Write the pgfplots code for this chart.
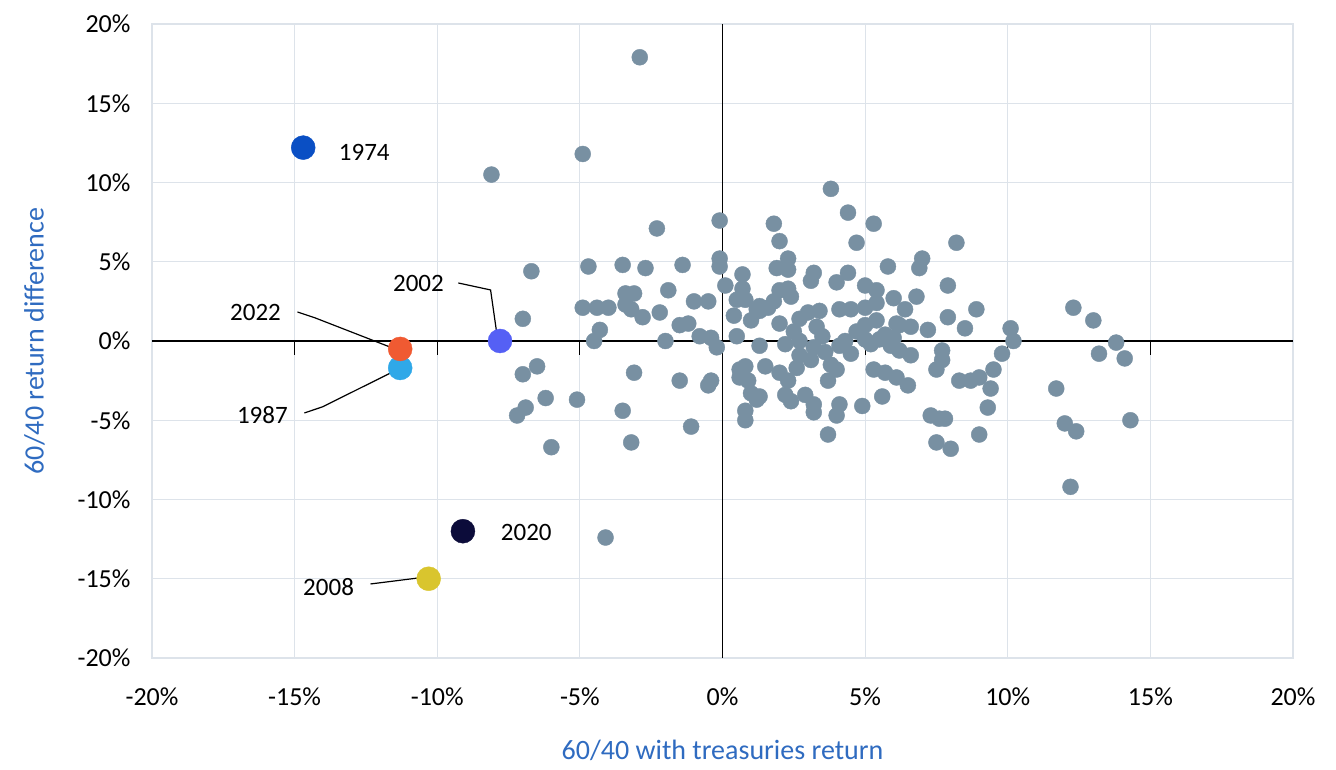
\documentclass[border=0pt]{standalone}
\usepackage{pgfplots}
\pgfplotsset{compat=1.18}
\usepackage{fontspec}
\setmainfont{Carlito}
\definecolor{dotg}{HTML}{7890A2}
\definecolor{lblue}{HTML}{2F6BC0}
\definecolor{gridc}{HTML}{DDE3EA}
\definecolor{c74}{RGB}{10,79,196}
\definecolor{c02}{RGB}{85,96,245}
\definecolor{c87}{RGB}{47,168,232}
\definecolor{c22}{RGB}{240,90,50}
\definecolor{c20}{RGB}{12,12,58}
\definecolor{c08}{RGB}{217,197,46}
\begin{document}
\begin{tikzpicture}[x=1pt,y=1pt]
\useasboundingbox (-152,-112) rectangle (1184,658);
\begin{axis}[at={(0,0)},anchor=south west,scale only axis,width=1141pt,height=634pt,
 xmin=-20,xmax=20,ymin=-20,ymax=20,xtick={-20,-15,...,20},ytick={-20,-15,...,20},
 xticklabel={\pgfmathprintnumber{\tick}\%},yticklabel={\pgfmathprintnumber{\tick}\%},
 /pgf/number format/assume math mode=true,
 ticklabel style={font=\fontsize{26}{30}\selectfont,text=black},
 xticklabel style={yshift=-26pt},yticklabel style={xshift=-18pt},
 grid=major,grid style={gridc,line width=1.2pt},axis line style={gridc,line width=1.2pt},
 major tick length=0pt,
 xlabel={60/40 with treasuries return},ylabel={60/40 return difference},
 label style={font=\fontsize{28}{32}\selectfont,text=lblue},
 xlabel style={yshift=-28pt},ylabel style={yshift=26pt},
 clip=false]
\draw[black,line width=1.2pt] (axis cs:-20,0)--(axis cs:20,0);
\draw[black,line width=1.2pt] (axis cs:0,-20)--(axis cs:0,20);
\draw[black,line width=1.2pt] (axis cs:-15,0)--(axis cs:-15,-0.9);
\draw[black,line width=1.2pt] (axis cs:-10,0)--(axis cs:-10,-0.9);
\draw[black,line width=1.2pt] (axis cs:-5,0)--(axis cs:-5,-0.9);
\draw[black,line width=1.2pt] (axis cs:5,0)--(axis cs:5,-0.9);
\draw[black,line width=1.2pt] (axis cs:10,0)--(axis cs:10,-0.9);
\draw[black,line width=1.2pt] (axis cs:15,0)--(axis cs:15,-0.9);
\addplot[only marks,mark=*,mark size=8pt,color=dotg] coordinates {
(-2.9,17.9)(-8.1,10.5)(-4.9,11.8)(-0.1,7.6)(-2.3,7.1)(-6.7,4.4)(-4.7,4.7)(-3.5,4.8)(-2.7,4.6)(-1.4,4.8)
(-0.1,5.2)(-0.1,4.7)(0.7,4.2)(-7.0,1.4)(-4.9,2.1)(-4.4,2.1)(-4.0,2.1)(-3.4,3.0)(-3.1,3.0)(-3.4,2.3)
(-3.2,2.0)(-2.8,1.5)(-2.2,1.8)(-1.9,3.2)(-1.0,2.5)(-0.5,2.5)(0.1,3.5)(0.5,2.6)(0.8,2.6)(1.2,2.0)
(1.8,2.5)(-4.3,0.7)(-4.5,0.0)(-2.0,0.0)(-1.5,1.0)(-1.2,1.1)(-0.8,0.3)(-0.4,0.2)(-0.2,-0.4)(0.5,0.3)
(-7.0,-2.1)(-6.5,-1.6)(-6.2,-3.6)(-5.1,-3.7)(-7.2,-4.7)(-6.9,-4.2)(-3.1,-2.0)(-3.5,-4.4)(-1.1,-5.4)
(-1.5,-2.5)(-0.4,-2.5)(-0.5,-2.8)(-6.0,-6.7)(-3.2,-6.4)(-4.1,-12.4)
(3.8,9.6)(4.4,8.1)(5.3,7.4)(1.8,7.4)(2.0,6.3)(4.7,6.2)(8.2,6.2)(2.3,5.2)(7.0,5.2)(6.9,4.6)
(5.8,4.7)(1.9,4.6)(2.3,4.5)(3.2,4.3)(3.1,3.8)(4.4,4.3)(4.0,3.7)(2.3,3.3)(2.0,3.2)(2.4,2.8)
(5.0,3.5)(5.4,3.2)(7.9,3.5)(6.0,2.7)(6.4,2.0)(6.8,2.8)(7.9,1.5)(8.9,2.0)(0.7,3.3)(1.3,2.2)
(1.6,2.1)(1.0,1.3)(1.3,1.9)(2.0,1.1)(2.7,1.4)(3.0,1.8)(3.4,1.9)(4.1,2.0)(4.5,2.0)(5.0,2.1)
(5.4,2.4)(5.4,1.3)(5.0,1.0)(6.1,1.1)(6.2,1.0)(6.6,0.9)(7.2,0.7)(7.7,-0.6)(10.1,0.8)(10.2,0.0)
(9.8,-0.8)(1.3,-0.3)(2.7,0.0)(3.2,-0.4)(2.7,-0.9)(3.1,-1.2)(3.6,-0.7)(4.1,-0.3)(4.3,0.0)(4.7,0.6)
(5.0,0.1)(5.5,0.1)(5.7,0.4)(5.9,-0.3)(6.2,-0.6)(6.6,-0.9)(3.8,-1.5)(4.0,-1.8)(1.5,-1.6)(2.0,-2.0)
(2.6,-1.7)(2.3,-2.5)(0.8,-1.6)(0.6,-1.8)(0.9,-2.5)(0.6,-2.3)(1.0,-3.3)(1.3,-3.5)(0.8,-4.4)(0.8,-5.0)
(1.2,-3.7)(2.2,-3.4)(2.4,-3.8)(2.9,-3.4)(3.2,-4.0)(3.2,-4.5)(3.7,-2.5)(4.1,-4.0)(4.0,-4.7)(3.7,-5.9)
(4.9,-4.1)(5.3,-1.8)(5.7,-2.0)(5.6,-3.5)(6.1,-2.3)(6.5,-2.8)(7.5,-1.8)(7.7,-1.2)(8.3,-2.5)(8.7,-2.5)
(9.0,-2.3)(9.5,-1.8)(9.4,-3.0)(9.3,-4.2)(9.0,-5.9)(7.3,-4.7)(7.6,-4.9)(7.8,-4.9)(7.5,-6.4)(8.0,-6.8)
(8.5,0.8)(11.7,-3.0)(12.0,-5.2)(12.4,-5.7)(12.2,-9.2)(12.3,2.1)(13.0,1.3)(13.2,-0.8)(13.8,-0.1)(14.1,-1.1)(14.3,-5.0)
(2.5,0.6)(3.5,0.3)(2.2,-0.2)(0.4,1.6)(6.0,0.2)(5.2,-0.2)(4.5,-0.8)(3.3,0.9)
};
\draw[black,line width=1.2pt] (axis cs:-9.26,3.66)--(axis cs:-8.13,3.22)--(axis cs:-7.89,0.19);
\draw[black,line width=1.2pt] (axis cs:-14.9,1.83)--(axis cs:-14.27,1.45)--(axis cs:-11.57,-0.44);
\draw[black,line width=1.2pt] (axis cs:-14.66,-4.54)--(axis cs:-14.03,-4.16)--(axis cs:-11.57,-1.96);
\draw[black,line width=1.2pt] (axis cs:-12.34,-15.33)--(axis cs:-10.66,-14.95);
\addplot[only marks,mark=*,mark size=12pt,color=c74] coordinates {(-14.7,12.2)};
\addplot[only marks,mark=*,mark size=12pt,color=c02] coordinates {(-7.8,0.0)};
\addplot[only marks,mark=*,mark size=12pt,color=c87] coordinates {(-11.3,-1.7)};
\addplot[only marks,mark=*,mark size=12pt,color=c22] coordinates {(-11.3,-0.5)};
\addplot[only marks,mark=*,mark size=12pt,color=c20] coordinates {(-9.1,-12.0)};
\addplot[only marks,mark=*,mark size=12pt,color=c08] coordinates {(-10.3,-15.0)};
\begin{scope}[every node/.style={font=\fontsize{25}{29}\selectfont,text=black}]
\node[anchor=west] at (axis cs:-13.57,11.92) {1974};
\node[anchor=west] at (axis cs:-7.89,-12.11) {2020};
\node at (axis cs:-10.66,3.66) {2002};
\node at (axis cs:-16.37,1.83) {2022};
\node at (axis cs:-16.13,-4.67) {1987};
\node at (axis cs:-13.81,-15.52) {2008};
\end{scope}
\end{axis}
\end{tikzpicture}
\end{document}
